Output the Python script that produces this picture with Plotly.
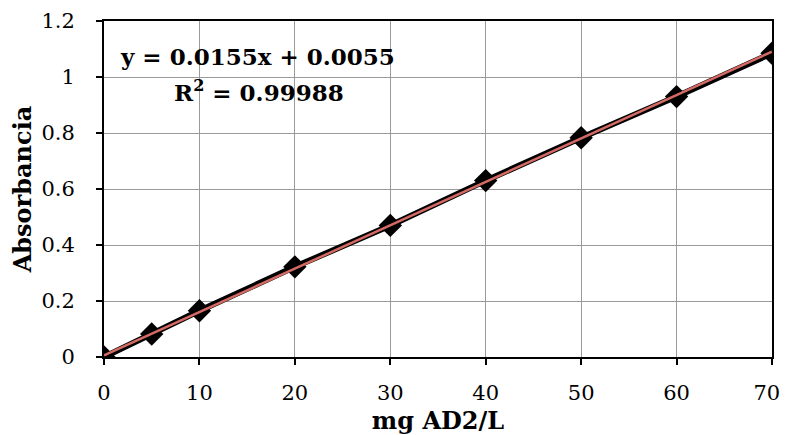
import plotly.graph_objects as go

conc = [0, 5, 10, 20, 30, 40, 50, 60, 70]
absorb = [0.0, 0.082, 0.165, 0.322, 0.470, 0.630, 0.783, 0.930, 1.085]
slope = 0.0155
intercept = 0.0055
trend_x = [0, 70]
trend_y = [intercept + slope * x for x in trend_x]
x_ticks = [0, 10, 20, 30, 40, 50, 60, 70]
x_ticktext = ["0", "10", "20", "30", "40", "50", "60", "70\u2002"]
y_ticks = [0, 0.2, 0.4, 0.6, 0.8, 1.0, 1.2]
y_ticktext = ["0", "0.2", "0.4", "0.6", "0.8", "1", "1.2"]

FONT = "DejaVu Serif"

fig = go.Figure()
fig.add_trace(go.Scatter(x=conc, y=absorb, mode="lines+markers",
                         line=dict(color="black", width=6),
                         marker=dict(symbol="diamond", size=18, color="black"),
                         showlegend=False, hoverinfo="skip"))
fig.add_trace(go.Scatter(x=trend_x, y=trend_y, mode="lines",
                         line=dict(color="#d46a64", width=2.5),
                         showlegend=False))

fig.add_annotation(x=0.230, y=0.893, xref="paper", yref="paper",
                   text="<b>y = 0.0155x + 0.0055</b>", showarrow=False,
                   font=dict(family=FONT, size=23, color="black"),
                   xanchor="center", yanchor="middle")
fig.add_annotation(x=0.232, y=0.792, xref="paper", yref="paper",
                   text="<b>R<sup>2</sup> = 0.99988</b>", showarrow=False,
                   font=dict(family=FONT, size=23, color="black"),
                   xanchor="center", yanchor="middle")

fig.update_layout(
    width=781, height=427,
    margin=dict(l=96, r=17, t=13, b=78, autoexpand=False),
    paper_bgcolor="white", plot_bgcolor="white",
    font=dict(family=FONT, size=21, color="black"),
)
fig.update_xaxes(range=[0, 70], tickvals=x_ticks, ticktext=x_ticktext,
                 showgrid=True, gridcolor="#9a9a9a", gridwidth=1.3,
                 showline=True, linecolor="black", linewidth=2, mirror=True,
                 ticks="outside", ticklen=6, tickwidth=2, tickcolor="black",
                 ticklabelstandoff=10, ticklabeloverflow="allow",
                 zeroline=False,
                 title=dict(text="<b>mg AD2/L</b>", font=dict(family=FONT, size=24), standoff=16),
                 tickfont=dict(family=FONT, size=21))
fig.update_yaxes(range=[0, 1.2], tickvals=y_ticks, ticktext=y_ticktext,
                 showgrid=True, gridcolor="#9a9a9a", gridwidth=1.3,
                 showline=True, linecolor="black", linewidth=2, mirror=True,
                 ticks="outside", ticklen=6, tickwidth=2, tickcolor="black",
                 ticklabelstandoff=17,
                 zeroline=False,
                 title=dict(text="<b>Absorbancia</b>", font=dict(family=FONT, size=24), standoff=9),
                 tickfont=dict(family=FONT, size=21))

fig.write_html("out.html")
